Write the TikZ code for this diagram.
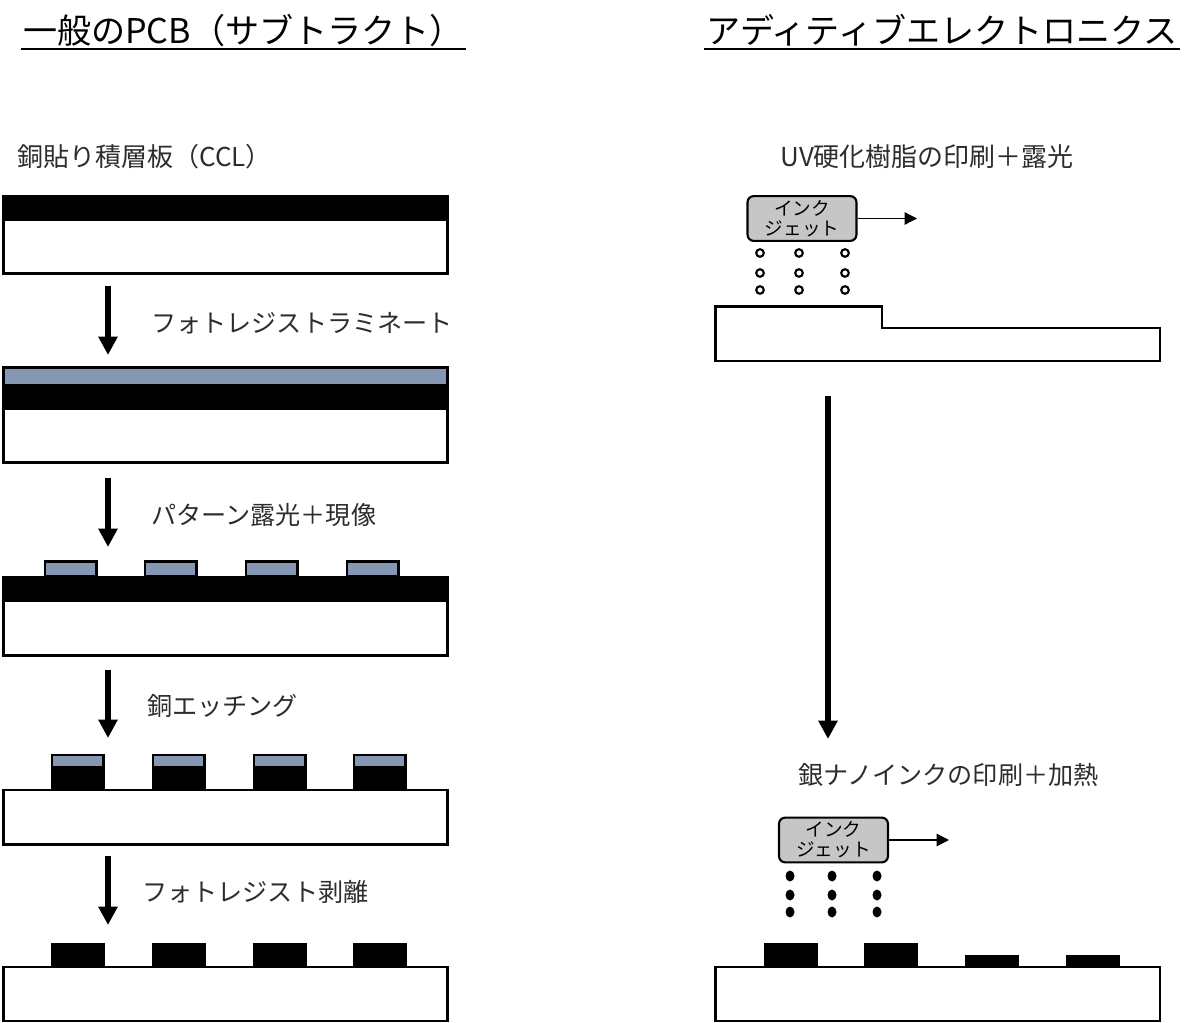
\documentclass[tikz,border=0pt]{standalone}
\usepackage{fontspec}
\setmainfont{Noto Sans CJK JP}
\usetikzlibrary{arrows.meta}
\definecolor{resistcol}{RGB}{133,151,178}
\definecolor{labelcol}{RGB}{45,45,45}
\tikzset{
  board/.style={draw,line width=1.3pt,fill=white},
  copper/.style={fill=black},
  resist/.style={draw,line width=1.35pt,fill=resistcol},
  step label/.style={anchor=west,inner sep=0pt,text=labelcol,font=\fontsize{14.3}{16}\selectfont},
  wide label/.style={step label,font=\fontsize{14.8}{16}\selectfont},
  title label/.style={anchor=base west,inner sep=1pt,text=black,font=\fontsize{19.4}{21}\selectfont},
  head box/.style={draw,line width=1.2pt,fill=gray!45,rounded corners=3.5pt,minimum width=62pt,minimum height=25.5pt,
    inner sep=0pt,align=center,font=\fontsize{10.6}{11.5}\selectfont},
  big arrow/.style={-{Triangle[width=10.5pt,length=10.5pt]},line width=3.4pt},
  thin arrow/.style={-{Triangle[width=7pt,length=7pt]},line width=0.7pt},
}
\begin{document}
\begin{tikzpicture}[x=0.02cm,y=-0.02cm]
  \useasboundingbox (0,0) rectangle (1197,1023);
  % titles
  \node[title label] (titleL) at (21,44) {一般のPCB（サブトラクト）};
  \node[title label] (titleR) at (704,44) {アディティブエレクトロニクス};
  \draw[line width=1pt] (titleL.south west) -- (titleL.south east);
  \draw[line width=1pt] (titleR.south west) -- (titleR.south east);
  % left column
  \node[wide label] (ccl) at (17,157) {銅貼り積層板（CCL）};
  \draw[board] (3.5,220) rectangle (447.5,273.5);
  \fill[copper] (2.5,195) rectangle (448.5,220);

  \coordinate (a1s) at (108,286);
  \coordinate (a1e) at (108,355);
  \draw[big arrow] (a1s) -- (a1e);
  \node[step label] (lam) at (151,323) {フォトレジストラミネート};

  \draw[board] (3.5,409) rectangle (447.5,462.5);
  \fill[copper] (2.5,385) rectangle (448.5,409);
  \draw[resist] (3.5,367.5) rectangle (447.5,385);

  \coordinate (a2s) at (108,478);
  \coordinate (a2e) at (108,547);
  \draw[big arrow] (a2s) -- (a2e);
  \node[step label] (expo) at (151,515) {パターン露光＋現像};

  \foreach \x in {45,145,246,347} {
    \draw[resist] (\x,561.5) rectangle (\x+51.5,576);
  }
  \draw[board] (3.5,601) rectangle (447.5,655.5);
  \fill[copper] (2.5,576) rectangle (448.5,601);

  \coordinate (a3s) at (108,670);
  \coordinate (a3e) at (108,738);
  \draw[big arrow] (a3s) -- (a3e);
  \node[step label] (etch) at (147,706) {銅エッチング};

  \draw[board] (3.5,790) rectangle (447.5,844.5);
  \foreach \x in {51,152,253,353} {
    \fill[copper] (\x,767) rectangle (\x+53.5,790);
    \draw[resist] (\x+1,755) rectangle (\x+52.5,767);
  }

  \coordinate (a4s) at (108,856);
  \coordinate (a4e) at (108,925);
  \draw[big arrow] (a4s) -- (a4e);
  \node[step label] (strip) at (142,892) {フォトレジスト剥離};

  \draw[board] (3.5,967) rectangle (447.5,1021);
  \foreach \x in {51,152,253,353} {
    \fill[copper] (\x,943) rectangle (\x+53.5,967);
  }
  % right column
  \node[wide label] (uv) at (780,157) {UV硬化樹脂の印刷＋露光};
  \node[head box] (jet1) at (802,218.5) {インク\\ジェット};
  \coordinate (jet1e) at (917,218.5);
  \draw[thin arrow] (jet1.east) -- (jet1e);
  \foreach \x in {760,799,845} {
    \foreach \y in {253,273,290} {
      \draw[line width=1.2pt] (\x,\y) circle (3.8);
    }
  }
  \draw[board] (715.5,306.5) -- (882,306.5) -- (882,328) -- (1160,328) -- (1160,361) -- (715.5,361) -- cycle;

  \coordinate (a5s) at (828,396);
  \coordinate (a5e) at (828,739);
  \draw[big arrow] (a5s) -- (a5e);

  \node[step label] (ag) at (798,775) {銀ナノインクの印刷＋加熱};
  \node[head box] (jet2) at (833.5,840) {インク\\ジェット};
  \coordinate (jet2e) at (949,840);
  \draw[thin arrow] (jet2.east) -- (jet2e);
  \foreach \x in {790,832,877} {
    \foreach \y in {876,895,912} {
      \fill (\x,\y) ellipse (4.5 and 5.5);
    }
  }
  \draw[board] (715.5,967) rectangle (1160,1021);
  \foreach \x in {764,864} {
    \fill[copper] (\x,943) rectangle (\x+53.5,967);
  }
  \foreach \x in {965,1066} {
    \fill[copper] (\x,955) rectangle (\x+53.5,967);
  }
\end{tikzpicture}
\end{document}
